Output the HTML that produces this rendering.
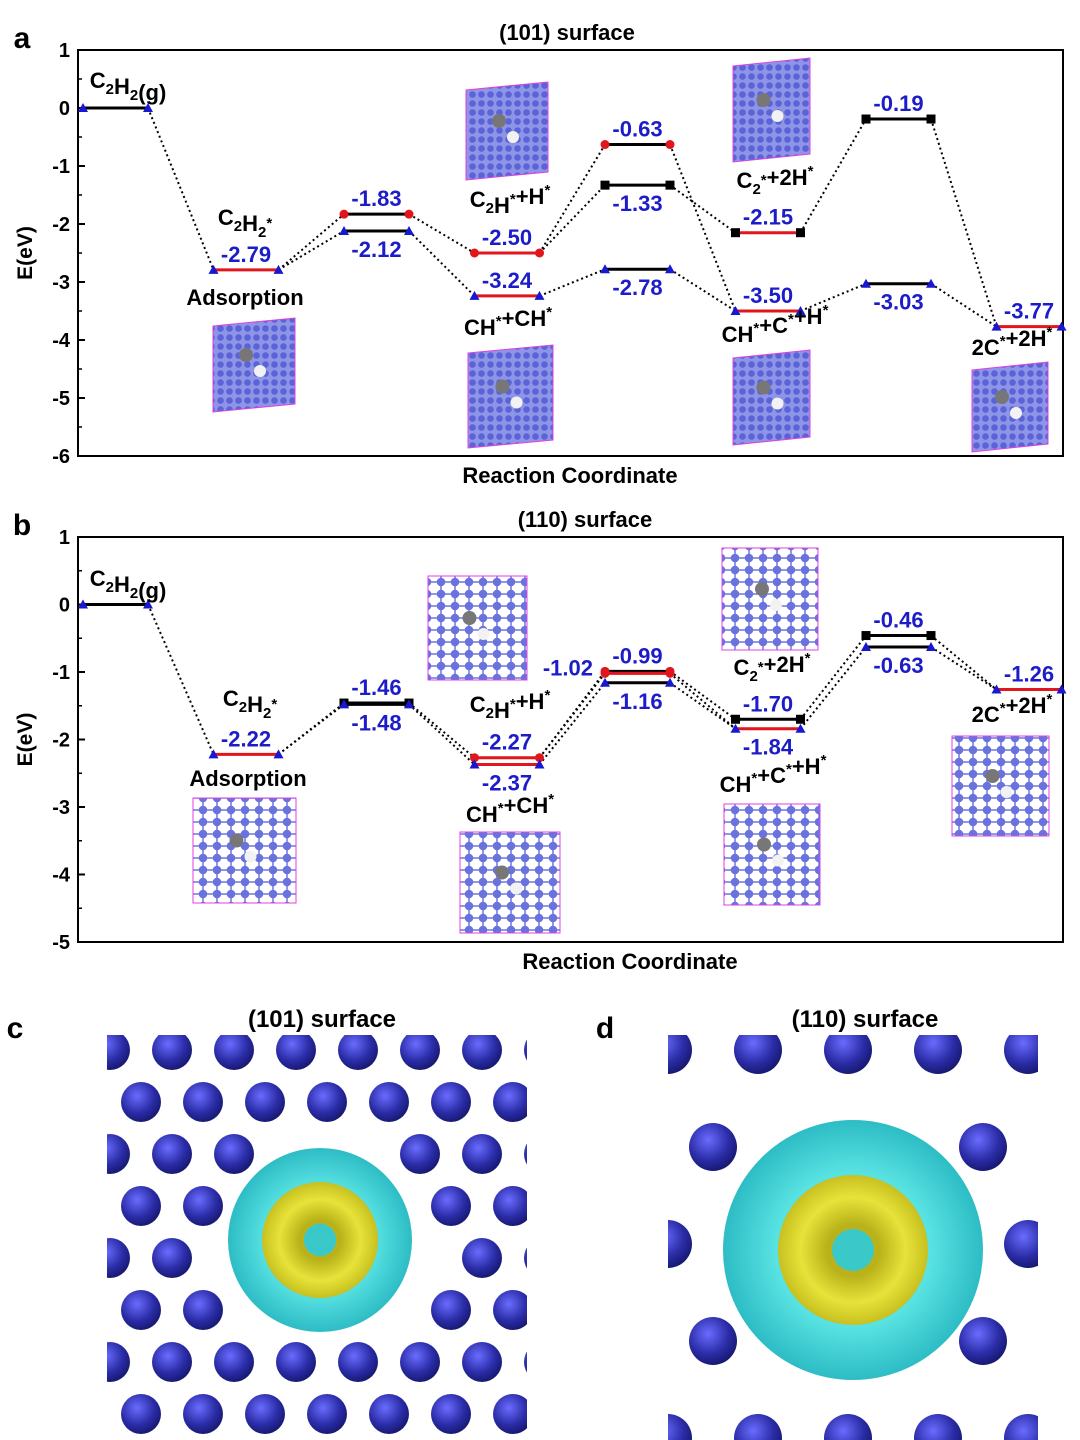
<!DOCTYPE html>
<html><head><meta charset="utf-8"><style>
body{margin:0;background:#fff;}
svg{display:block;font-family:"Liberation Sans",Arial,sans-serif;}
</style></head><body>
<svg id="fig" width="1080" height="1440" viewBox="0 0 1080 1440" xmlns="http://www.w3.org/2000/svg">
<defs>
<pattern id="atomsA" width="9" height="9" patternUnits="userSpaceOnUse">
<rect width="9" height="9" fill="#8f95e6"/><circle cx="4.5" cy="4.5" r="3.3" fill="#5a63d8"/></pattern>
<pattern id="atomsB" width="14" height="12" patternUnits="userSpaceOnUse">
<rect width="14" height="12" fill="#fff"/><path d="M0 6H14M7 0V12" stroke="#6e76dc" stroke-width="1.5"/><circle cx="7" cy="6" r="4.3" fill="#6a72de"/></pattern>
<radialGradient id="sph" cx="0.4" cy="0.35" r="0.7"><stop offset="0" stop-color="#6a6cff"/><stop offset="0.6" stop-color="#2b2da8"/><stop offset="1" stop-color="#14166a"/></radialGradient>
<radialGradient id="cyanG" cx="0.5" cy="0.5" r="0.5"><stop offset="0.6" stop-color="#4fe0e0"/><stop offset="1" stop-color="#22b9c2"/></radialGradient>
<radialGradient id="yelG" cx="0.5" cy="0.5" r="0.5"><stop offset="0.35" stop-color="#b9b21a"/><stop offset="0.7" stop-color="#e8e33a"/><stop offset="1" stop-color="#c7c020"/></radialGradient>
</defs>
</svg>
<script>
// ---------- Panel a data ----------
const stagesA=[0,1,2,2,3,3,4,4,4,5,5,6,6,7];
const valuesA=[0,-2.79,-1.83,-2.12,-2.50,-3.24,-0.63,-1.33,-2.78,-2.15,-3.50,-0.19,-3.03,-3.77];
const lineColorsA=["k","r","k","k","r","r","k","k","k","r","r","k","k","r"];
const markerColorsA=["b","b","r","b","r","b","r","k","b","k","b","k","b","b"];
const labelsA=["","-2.79","-1.83","-2.12","-2.50","-3.24","-0.63","-1.33","-2.78","-2.15","-3.50","-0.19","-3.03","-3.77"];
const labelSideA=["","a","a","b","a","a","a","b","b","a","a","a","b","a"];
const linksA=[[0,1],[1,2],[1,3],[2,4],[3,5],[4,6],[4,7],[5,8],[6,10],[7,9],[8,10],[9,11],[10,12],[11,13],[12,13]];
const ticksA=[1,0,-1,-2,-3,-4,-5,-6];
// ---------- Panel b data ----------
const stagesB=[0,1,2,2,3,3,4,4,4,5,5,6,6,7];
const valuesB=[0,-2.22,-1.46,-1.48,-2.27,-2.37,-0.99,-1.02,-1.16,-1.70,-1.84,-0.46,-0.63,-1.26];
const lineColorsB=["k","r","k","k","r","r","k","r","k","k","r","k","k","r"];
const markerColorsB=["b","b","k","b","r","b","r","r","b","k","b","k","b","b"];
const labelsB=["","-2.22","-1.46","-1.48","-2.27","-2.37","-0.99","-1.02","-1.16","-1.70","-1.84","-0.46","-0.63","-1.26"];
const labelSideB=["","a","a","b","a","b","a","l","b","a","b","a","b","a"];
const linksB=[[0,1],[1,2],[1,3],[2,4],[3,5],[4,6],[4,7],[5,8],[6,9],[7,10],[8,10],[9,11],[10,12],[11,13],[12,13]];
const ticksB=[1,0,-1,-2,-3,-4,-5];

const NS="http://www.w3.org/2000/svg";
const svg=document.getElementById('fig');
const COL={k:"#000",r:"#e0161c",b:"#1818d0"};
function el(t,a,p){const e=document.createElementNS(NS,t);for(const k in a)e.setAttribute(k,a[k]);(p||svg).appendChild(e);return e;}
function txt(x,y,s,size,fill,anchor,p){const e=el('text',{x:x,y:y,'font-size':size,'font-weight':'bold',fill:fill||'#000','text-anchor':anchor||'middle'},p);e.innerHTML=s;return e;}

function panel(cfg){
  const g=el('g',{});
  
  
  const X0=78,X1=1063,T=cfg.top,B=cfg.bot;
  const yS=v=>T+(cfg.ymax-v)/(cfg.ymax-cfg.ymin)*(B-T);
  const xS=s=>83+130.5*s;
  const W=65;
  cfg.structs.forEach((r,i)=>{
    const s=el('g',{},g);
    
    
    if(cfg.skew){el('polygon',{points:`${r[0]},${r[1]+8} ${r[2]},${r[1]} ${r[2]},${r[3]-8} ${r[0]},${r[3]}`,fill:'url(#atomsA)',stroke:'#e040e0','stroke-width':1},s);}
    else el('rect',{x:r[0],y:r[1],width:r[2]-r[0],height:r[3]-r[1],fill:'url(#atomsB)',stroke:'#e040e0','stroke-width':1},s);
    el('circle',{cx:(r[0]+r[2])/2-8,cy:(r[1]+r[3])/2-10,r:7,fill:'#777'},s);
    el('circle',{cx:(r[0]+r[2])/2+6,cy:(r[1]+r[3])/2+6,r:6,fill:'#f2f2f2'},s);
  });
  const box=el('rect',{x:X0,y:T,width:X1-X0,height:B-T,fill:'none',stroke:'#000','stroke-width':2},g);
  
  cfg.ticks.forEach(v=>{
    const y=yS(v);
    el('line',{x1:X0,x2:X0+7,y1:y,y2:y,stroke:'#000','stroke-width':2},g);
    if(v>cfg.ymin){el('line',{x1:X0,x2:X0+4,y1:yS(v-0.5),y2:yS(v-0.5),stroke:'#000','stroke-width':1.5},g);}
    const t=txt(70,y+7,String(v),20,'#000','end',g);
    
  });
  const yt=el('text',{x:0,y:0,'font-size':21,'font-weight':'bold','text-anchor':'middle',transform:`translate(32,${(T+B)/2}) rotate(-90)`},g);
  yt.textContent='E(eV)';
  const xt=txt(cfg.xtX,B+27,'Reaction Coordinate',22,'#000','middle',g);
  
  const tt=txt(cfg.titleX,T-10,cfg.title,22,'#000','middle',g);
  
  const pl=txt(22,T-2,cfg.letter,30,'#000','middle',g);
  
  cfg.links.forEach(l=>{
    const a=l[0],b=l[1];
    const ln=el('line',{x1:xS(cfg.st[a])+W,y1:yS(cfg.v[a]),x2:xS(cfg.st[b]),y2:yS(cfg.v[b]),stroke:'#000','stroke-width':2,'stroke-dasharray':'2,3'},g);
    
  });
  cfg.v.forEach((v,i)=>{
    const x=xS(cfg.st[i]),y=yS(v);
    const ln=el('line',{x1:x,x2:x+W,y1:y,y2:y,stroke:COL[cfg.lc[i]],'stroke-width':3},g);
    
    [x,x+W].forEach(mx=>{
      const c=COL[cfg.mc[i]];
      let m;
      if(cfg.mc[i]==='b') m=el('polygon',{points:`${mx-5},${y+4} ${mx+5},${y+4} ${mx},${y-5}`,fill:c},g);
      else if(cfg.mc[i]==='r') m=el('circle',{cx:mx,cy:y,r:4.5,fill:c},g);
      else m=el('rect',{x:mx-4.5,y:y-4.5,width:9,height:9,fill:c},g);
      
    });
    if(cfg.lab[i]){
      const side=cfg.side[i];
      let lx=x+W/2,ly=side==='a'?y-8:y+26,anc='middle';
      if(side==='l'){lx=x-12;ly=y+2;anc='end';}
      const t=txt(lx,ly,cfg.lab[i],22,'#1c1cc8',anc,g);
      
    }
  });
  cfg.names.forEach(n=>{
    const t=txt(n[0],n[1],n[2],22,'#000','middle',g);
    
  });
}
const sub=s=>`<tspan font-size="15" dy="6">${s}</tspan><tspan dy="-6"></tspan>`;
const sup=s=>`<tspan font-size="15" dy="-9">${s}</tspan><tspan dy="9"></tspan>`;
panel({name:'panel-a-chart',top:50,bot:456,ymax:1,ymin:-6,ticks:ticksA,title:'(101) surface',titleX:567,xtX:570,letter:'a',
 st:stagesA,v:valuesA,lc:lineColorsA,mc:markerColorsA,lab:labelsA,side:labelSideA,links:linksA,skew:true,
 structs:[[466,82,548,180],[213,318,295,412],[468,345,553,448],[733,58,810,162],[733,350,810,445],[972,362,1048,452]],
 names:[[128,88,'C'+sub('2')+'H'+sub('2')+'(g)'],[245,225,'C'+sub('2')+'H'+sub('2')+sup('*')],[245,305,'Adsorption'],
 [510,207,'C'+sub('2')+'H'+sup('*')+'+H'+sup('*')],[508,335,'CH'+sup('*')+'+CH'+sup('*')],[775,188,'C'+sub('2')+sup('*')+'+2H'+sup('*')],
 [775,342,'CH'+sup('*')+'+C'+sup('*')+'+H'+sup('*')],[1012,355,'2C'+sup('*')+'+2H'+sup('*')]]});
panel({name:'panel-b-chart',top:537,bot:942,ymax:1,ymin:-5,ticks:ticksB,title:'(110) surface',titleX:585,xtX:630,letter:'b',
 st:stagesB,v:valuesB,lc:lineColorsB,mc:markerColorsB,lab:labelsB,side:labelSideB,links:linksB,skew:false,
 structs:[[428,576,527,680],[193,798,296,903],[460,832,560,933],[722,548,818,650],[724,804,820,905],[952,736,1049,836]],
 names:[[128,586,'C'+sub('2')+'H'+sub('2')+'(g)'],[250,706,'C'+sub('2')+'H'+sub('2')+sup('*')],[248,786,'Adsorption'],
 [510,712,'C'+sub('2')+'H'+sup('*')+'+H'+sup('*')],[510,822,'CH'+sup('*')+'+CH'+sup('*')],[772,675,'C'+sub('2')+sup('*')+'+2H'+sup('*')],
 [773,792,'CH'+sup('*')+'+C'+sup('*')+'+H'+sup('*')],[1012,722,'2C'+sup('*')+'+2H'+sup('*')]]});

function density(name,x0,x1,cx,cy,rc,ry,atoms,title,tx,letter,lx){
  const g=el('g',{});
  
  const cp=el('clipPath',{id:name+'-clip'},g);el('rect',{x:x0,y:1035,width:x1-x0,height:405},cp);
  const ig=el('g',{'clip-path':`url(#${name}-clip)`},g);
  atoms.forEach(a=>el('circle',{cx:a[0],cy:a[1],r:a[2],fill:'url(#sph)'},ig));
  el('circle',{cx:cx,cy:cy,r:rc,fill:'url(#cyanG)',opacity:0.95},ig);
  el('circle',{cx:cx,cy:cy,r:ry,fill:'url(#yelG)'},ig);
  el('circle',{cx:cx,cy:cy,r:ry*0.28,fill:'#3bc8c8'},ig);
  const t=txt(tx,1027,title,24,'#000','middle',g);
  const l=txt(lx,1038,letter,30,'#000','middle',g);
}
const atomsC=[];
for(let r=0;r<8;r++)for(let c=0;c<8;c++){const x=110+c*62+(r%2)*31,y=1050+r*52;if(Math.hypot(x-320,y-1240)>110)atomsC.push([x,y,20]);}
density('panel-c-image',107,527,320,1240,92,58,atomsC,'(101) surface',322,'c',15);
const atomsD=[];
for(let r=0;r<5;r++)for(let c=0;c<5;c++){const x=668+c*90+(r%2)*45,y=1050+r*97;if(Math.hypot(x-853,y-1250)>140)atomsD.push([x,y,24]);}
density('panel-d-image',668,1038,853,1250,130,75,atomsD,'(110) surface',865,'d',605);
</script>
</body></html>
